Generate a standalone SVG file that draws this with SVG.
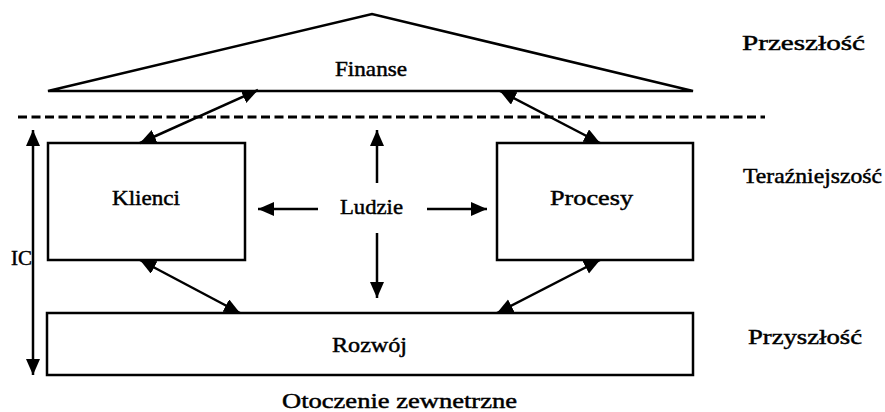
<svg xmlns="http://www.w3.org/2000/svg" width="885" height="412" viewBox="0 0 885 412">
<style>
text{font-family:"Liberation Serif","DejaVu Serif","Times New Roman",serif;font-size:21px;fill:#000;stroke:#000;stroke-width:0.45}
.shape{fill:#fff;stroke:#000;stroke-width:2.5}
.conn{stroke:#000;stroke-width:2.5;fill:none}
.dash{stroke:#000;stroke-width:3;stroke-dasharray:9 4.5;fill:none}
</style>
<defs>
<marker id="ah" markerUnits="userSpaceOnUse" markerWidth="17" markerHeight="15" refX="16" refY="7" orient="auto-start-reverse" viewBox="0 0 17 15">
<path d="M0,0 L16,7 L0,14 z" fill="#000"/>
</marker>
</defs>
<rect width="885" height="412" fill="#fff"/>
<g id="finanse">
<polygon class="shape" points="48,91 372,14 693,91"/>
<text x="335" y="76" textLength="72" lengthAdjust="spacingAndGlyphs">Finanse</text>
</g>
<line class="dash" x1="18" y1="117" x2="765" y2="117"/>
<g id="klienci">
<rect class="shape" x="48" y="143" width="197" height="117"/>
<text x="112" y="205" textLength="68" lengthAdjust="spacingAndGlyphs">Klienci</text>
</g>
<g id="procesy">
<rect class="shape" x="497" y="143" width="196" height="117"/>
<text x="550" y="205" textLength="83" lengthAdjust="spacingAndGlyphs">Procesy</text>
</g>
<g id="ludzie">
<text x="340" y="214" textLength="63" lengthAdjust="spacingAndGlyphs">Ludzie</text>
</g>
<g id="rozwoj">
<rect class="shape" x="47" y="313" width="646" height="62"/>
<text x="332" y="352" textLength="75" lengthAdjust="spacingAndGlyphs">Rozwój</text>
</g>
<g id="labels">
<text x="742" y="50" textLength="123" lengthAdjust="spacingAndGlyphs">Przeszłość</text>
<text x="743" y="183" textLength="139" lengthAdjust="spacingAndGlyphs">Teraźniejszość</text>
<text x="748" y="344" textLength="114" lengthAdjust="spacingAndGlyphs">Przyszłość</text>
<text x="11" y="265" font-size="19">IC</text>
<text x="282" y="408" textLength="235" lengthAdjust="spacingAndGlyphs">Otoczenie zewnetrzne</text>
</g>
<g id="connectors">
<line class="conn" x1="140" y1="143" x2="258" y2="90" marker-start="url(#ah)" marker-end="url(#ah)"/>
<line class="conn" x1="500" y1="91" x2="600" y2="143" marker-start="url(#ah)" marker-end="url(#ah)"/>
<line class="conn" x1="140" y1="260" x2="240" y2="313" marker-start="url(#ah)" marker-end="url(#ah)"/>
<line class="conn" x1="600" y1="260" x2="497" y2="313" marker-start="url(#ah)" marker-end="url(#ah)"/>
<line class="conn" x1="33" y1="130" x2="33" y2="375" marker-start="url(#ah)" marker-end="url(#ah)"/>
<line class="conn" x1="377" y1="183" x2="377" y2="130" marker-end="url(#ah)"/>
<line class="conn" x1="377" y1="233" x2="377" y2="298" marker-end="url(#ah)"/>
<line class="conn" x1="318" y1="209" x2="258" y2="209" marker-end="url(#ah)"/>
<line class="conn" x1="427" y1="209" x2="487" y2="209" marker-end="url(#ah)"/>
</g>
</svg>
